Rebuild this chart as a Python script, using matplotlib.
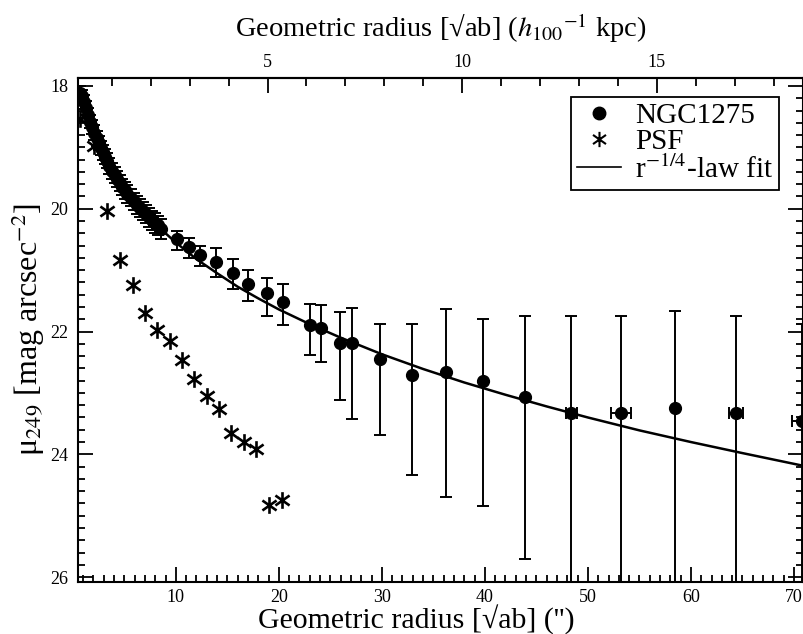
import matplotlib
matplotlib.use("Agg")
import matplotlib.pyplot as plt
from matplotlib.ticker import MultipleLocator, FixedLocator
from matplotlib.lines import Line2D
from matplotlib.path import Path

plt.rcParams['font.family'] = ['Liberation Serif', 'DejaVu Serif']
plt.rcParams['mathtext.fontset'] = 'stix'

# --- NGC1275 profile (arcsec, mag/arcsec^2, lower/upper errors) ---
r_gal = [0.7, 0.9, 1.1, 1.3, 1.5, 1.7, 1.9, 2.1, 2.3, 2.5, 2.7, 2.9, 3.1, 3.3,
         3.55, 3.8, 4.05, 4.3, 4.55, 4.8, 5.05, 5.3, 5.6, 5.9, 6.2, 6.5, 6.8,
         7.1, 7.4, 7.7, 8.0, 8.3,
         8.6, 10.1, 11.26, 12.3, 13.9, 15.5, 16.96, 18.8, 20.4, 23.07, 24.1,
         25.9, 27.1, 29.8, 32.9, 36.2, 39.8, 43.9, 48.4, 53.2, 58.5, 64.4, 70.8]
mu_gal = [18.12, 18.17, 18.26, 18.36, 18.47, 18.58, 18.67, 18.76, 18.85, 18.93,
          19.01, 19.08, 19.15, 19.22, 19.30, 19.38, 19.45, 19.52, 19.58, 19.64,
          19.70, 19.76, 19.82, 19.88, 19.94, 19.99, 20.04, 20.09, 20.14, 20.19,
          20.23, 20.27,
          20.33, 20.50, 20.63, 20.76, 20.86, 21.04, 21.22, 21.38, 21.52, 21.90,
          21.95, 22.18, 22.18, 22.44, 22.71, 22.66, 22.80, 23.06, 23.33, 23.33,
          23.25, 23.33, 23.46]
err_up = [0.12, 0.11, 0.11, 0.11, 0.11, 0.11, 0.12, 0.12, 0.12, 0.12, 0.12,
          0.12, 0.12, 0.12, 0.13, 0.13, 0.13, 0.13, 0.13, 0.13, 0.14, 0.14,
          0.14, 0.14, 0.14, 0.15, 0.15, 0.15, 0.15, 0.15, 0.16, 0.16,
          0.17, 0.14, 0.16, 0.16, 0.22, 0.22, 0.22, 0.26, 0.29, 0.35, 0.38,
          0.50, 0.56, 0.56, 0.84, 1.03, 1.00, 1.32, 1.59, 1.59, 1.58, 1.59, 1.58]
err_dn = [0.12, 0.11, 0.11, 0.11, 0.11, 0.11, 0.12, 0.12, 0.12, 0.12, 0.12,
          0.12, 0.12, 0.12, 0.13, 0.13, 0.13, 0.13, 0.13, 0.13, 0.14, 0.14,
          0.14, 0.14, 0.14, 0.15, 0.15, 0.15, 0.15, 0.15, 0.16, 0.16,
          0.17, 0.17, 0.18, 0.18, 0.25, 0.27, 0.29, 0.36, 0.38, 0.49, 0.55,
          0.94, 1.25, 1.25, 1.62, 2.03, 2.04, 2.65, 4.0, 4.0, 4.0, 4.0, 4.0]
xerr_gal = [0.0] * 50 + [0.55, 1.0, 0.0, 0.7, 1.0]

# --- PSF profile ---
r_psf = [0.68, 2.05, 3.3, 4.56, 5.8, 7.0, 8.2, 9.4, 10.6, 11.8, 13.0, 14.2,
         15.4, 16.6, 17.8, 19.06, 20.26]
mu_psf = [18.54, 18.97, 20.03, 20.84, 21.25, 21.69, 21.97, 22.15, 22.46, 22.78,
          23.05, 23.26, 23.66, 23.80, 23.92, 24.83, 24.75]

# --- r^(1/4)-law fit curve ---
r_fit = [1.5, 2, 2.5, 3, 4, 5, 6, 7, 8, 9, 10, 12, 14, 16, 18, 20, 23, 26, 30,
         34, 38, 42, 46, 50, 55, 60, 65, 71]
mu_fit = [18.37, 18.64, 18.86, 19.05, 19.37, 19.63, 19.86, 20.06, 20.24, 20.40,
          20.55, 20.82, 21.05, 21.27, 21.46, 21.64, 21.88, 22.10, 22.37, 22.61,
          22.83, 23.03, 23.22, 23.40, 23.61, 23.80, 23.98, 24.19]

ARCSEC_PER_KPC = 3.78

# asterisk marker: vertical stroke plus an X
star_path = Path([(0, -1), (0, 1), (-0.85, -0.6), (0.85, 0.6),
                  (-0.85, 0.6), (0.85, -0.6)],
                 [Path.MOVETO, Path.LINETO, Path.MOVETO, Path.LINETO,
                  Path.MOVETO, Path.LINETO])

fig = plt.figure(figsize=(8.04, 6.34), dpi=100)
ax = fig.add_axes([0.097, 0.082, 0.902, 0.795])

ax.plot(r_fit, mu_fit, color='black', lw=1.8, zorder=2)
ax.errorbar(r_gal, mu_gal, yerr=[err_up, err_dn], xerr=xerr_gal, fmt='o',
            color='black', ms=8.5, elinewidth=1.4, capsize=4.2, capthick=1.4,
            zorder=3)
ax.plot(r_psf, mu_psf, linestyle='none', marker=star_path, ms=12, mew=1.9,
        color='black', zorder=3)

ax.set_xlim(0.5, 70.9)
ax.set_ylim(26.08, 17.87)

ax.xaxis.set_major_locator(FixedLocator([10, 20, 30, 40, 50, 60, 70]))
ax.xaxis.set_minor_locator(MultipleLocator(1))
ax.yaxis.set_major_locator(FixedLocator([18, 20, 22, 24, 26]))
ax.yaxis.set_minor_locator(MultipleLocator(0.2))
ax.tick_params(which='both', direction='in', top=False, right=True,
               labelsize=13, width=1.3)
ax.tick_params(axis='x', which='major', length=11, pad=5)
ax.tick_params(axis='x', which='minor', length=5)
ax.tick_params(axis='y', which='major', length=11, pad=7)
ax.tick_params(axis='y', which='minor', length=5)
for s in ax.spines.values():
    s.set_linewidth(1.5)

ax.set_xlabel("Geometric radius [√ab] ('')", fontsize=21.5, labelpad=0)
ax.xaxis.set_label_coords(0.466, -0.045, transform=ax.transAxes)
ax.xaxis.label.set_va('top')
ax.set_ylabel('μ$_{249}$ [mag arcsec$^{-2}$]', fontsize=23, labelpad=2)

sec = ax.secondary_xaxis('top', functions=(lambda x: x / ARCSEC_PER_KPC,
                                           lambda k: k * ARCSEC_PER_KPC))
sec.xaxis.set_major_locator(FixedLocator([5, 10, 15]))
sec.xaxis.set_minor_locator(MultipleLocator(1))
sec.tick_params(which='both', direction='in', labelsize=13, width=1.3, pad=5)
sec.tick_params(which='major', length=11)
sec.tick_params(which='minor', length=6)
sec.spines['top'].set_linewidth(1.5)
sec.set_xlabel('Geometric radius [√ab] ($h_{100}$$^{-1}$ kpc)', fontsize=20.5,
               labelpad=12)

handles = [
    Line2D([], [], linestyle='none', marker='o', color='black', ms=9),
    Line2D([], [], linestyle='none', marker=star_path, color='black', ms=11,
           mew=1.5),
    Line2D([], [], color='black', lw=1.2),
]
labels = ['NGC1275', 'PSF', 'r$^{-1/4}$-law fit']
leg = ax.legend(handles, labels, loc='upper right',
                bbox_to_anchor=(0.967, 0.963), fontsize=21, frameon=True,
                fancybox=False, edgecolor='black', framealpha=1,
                handlelength=1.5, handletextpad=0.5, borderpad=0.2,
                labelspacing=0.0, borderaxespad=0.0)
leg.get_frame().set_linewidth(1.3)

fig.savefig('out.png', dpi=100)
